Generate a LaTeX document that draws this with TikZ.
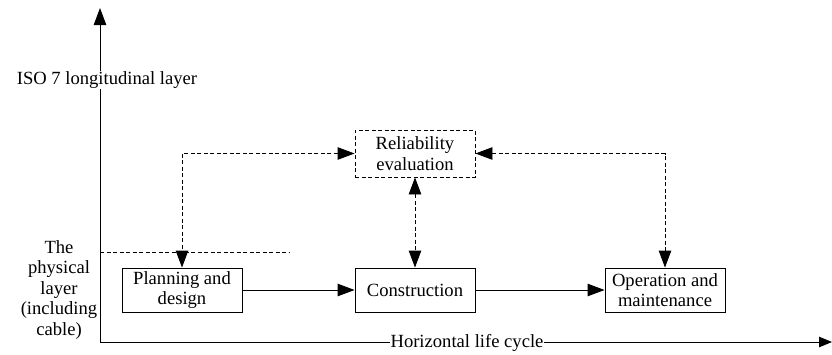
\documentclass[tikz,border=0pt]{standalone}
\usepackage{fontspec}
\setmainfont{Liberation Serif}
\usetikzlibrary{arrows.meta}
\begin{document}
\begin{tikzpicture}[x=1pt,y=-1pt,
  every node/.style={font=\fontsize{18.6}{20.5}\selectfont},
  box/.style={draw, line width=0.9pt, minimum width=120pt, minimum height=44pt, inner sep=0pt, align=center},
  dbox/.style={box, dash pattern=on 4pt off 2.5pt, minimum height=47pt},
  tip/.style={Triangle[length=17pt,width=12.5pt]},
  arr/.style={line width=0.9pt, -{Triangle[length=17pt,width=12.5pt]}},
  darr/.style={line width=0.9pt, dash pattern=on 4pt off 2.5pt},
  lab/.style={fill=white, inner sep=1pt}
  ]
\useasboundingbox (0,0) rectangle (832,354);
% axes
\coordinate (o) at (100,342);
\coordinate (ytop) at (100,8);
\coordinate (xend) at (832,342);
\draw[arr] (o) -- (ytop);
\draw[line width=0.9pt, -{Triangle[length=13pt,width=10.5pt]}] (o) -- (xend);
\node[lab] (ylab) at (107,80) {ISO 7 longitudinal layer};
\node[lab] (xlab) at (467,343) {Horizontal life cycle};
% physical layer
\coordinate (dl) at (100,252);
\coordinate (dr) at (289,252);
\draw[darr] (dl) -- (dr);
\node[align=center, inner sep=0pt] (phys) at (59,290) {The\\physical\\layer\\(including\\cable)};
% boxes
\node[box] (plan) at (182,290) {Planning and\\design};
\node[box] (cons) at (415,290) {Construction};
\node[box] (oper) at (665,290) {Operation and\\maintenance};
\node[dbox] (rel) at (415,153.5) {Reliability\\evaluation};
% solid arrows
\draw[arr] (plan) -- (cons);
\draw[arr] (cons) -- (oper);
% dashed arrows
\draw[darr, {Triangle[length=17pt,width=12.5pt]}-{Triangle[length=17pt,width=12.5pt]}] (rel.west) -| (plan.north);
\draw[darr, {Triangle[length=17pt,width=12.5pt]}-{Triangle[length=17pt,width=12.5pt]}] (rel.east) -| (oper.north);
\draw[darr, {Triangle[length=17pt,width=12.5pt]}-{Triangle[length=17pt,width=12.5pt]}] (rel.south) -- (cons.north);
\end{tikzpicture}
\end{document}
